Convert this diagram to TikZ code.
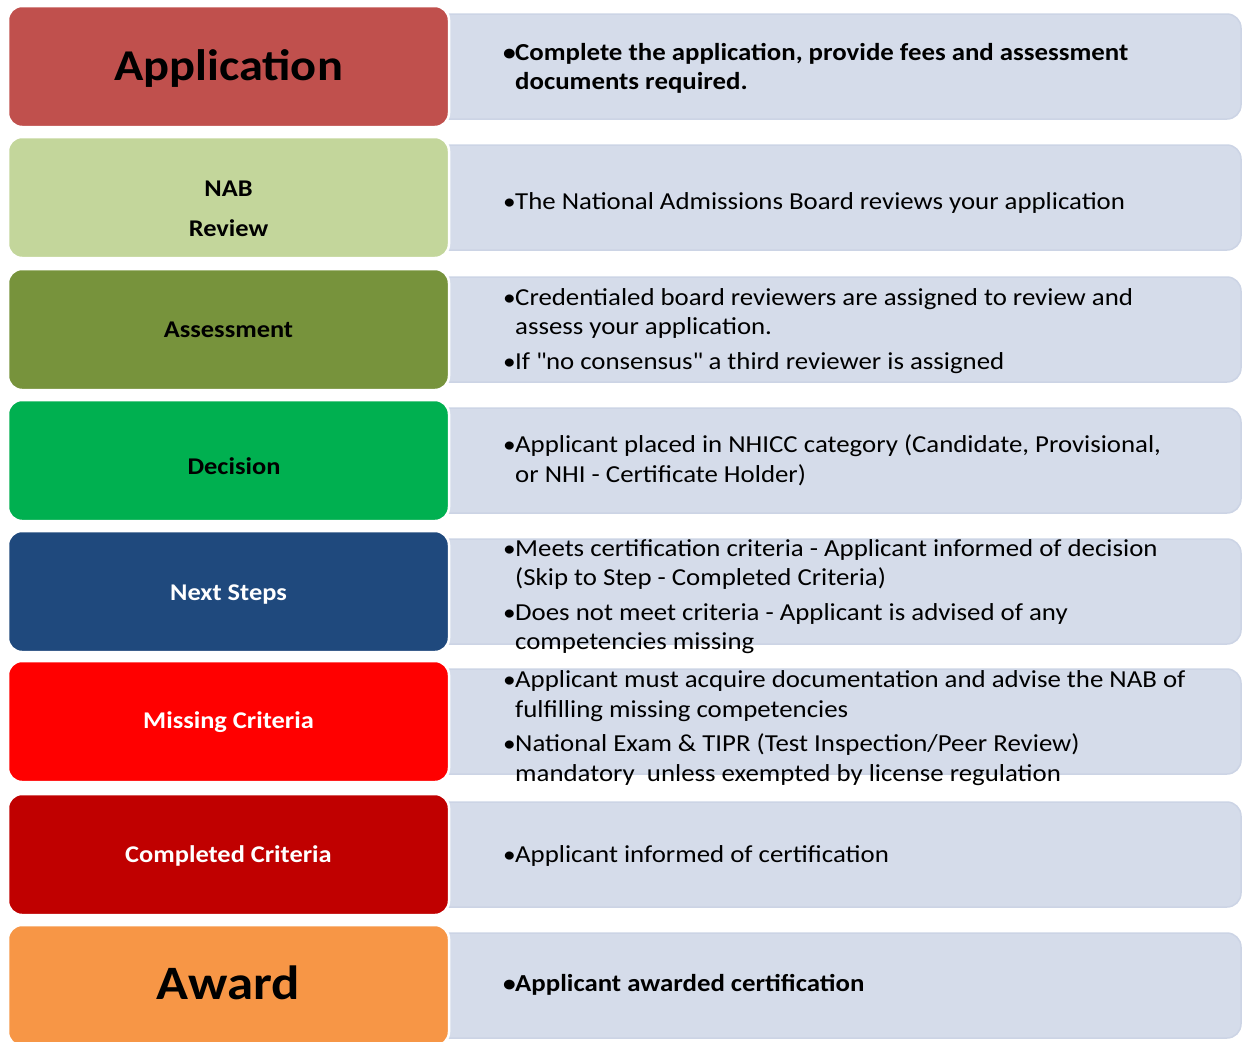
\documentclass[tikz,border=0pt]{standalone}
\usepackage{fontspec}
\setmainfont{Carlito}[FakeStretch=1.1]
\usepackage{tikz}

\definecolor{appred}{HTML}{C0504D}
\definecolor{nabgreen}{HTML}{C3D69B}
\definecolor{olive}{HTML}{77933C}
\definecolor{decgreen}{HTML}{00B050}
\definecolor{navy}{HTML}{1F497D}
\definecolor{brightred}{HTML}{FF0000}
\definecolor{darkred}{HTML}{C00000}
\definecolor{orange}{HTML}{F79646}
\definecolor{infofill}{HTML}{D5DCEA}
\definecolor{infoline}{HTML}{CCD4E5}

\newcommand{\bul}{\makebox[11pt][l]{\hspace*{-1pt}{\fontsize{23}{23}\selectfont\textbullet}}}
\newcommand{\bulind}{\hspace*{11pt}}

\tikzset{
  stage/.style={rounded corners=14pt, draw=white, line width=2.5pt, minimum width=441pt,
    minimum height=121pt, inner sep=0pt, align=center, font=\bfseries\fontsize{24}{29}\selectfont},
  info/.style={rounded corners=14pt, fill=infofill, draw=infoline, line width=1.5pt},
  infotext/.style={anchor=west, inner sep=0pt, align=left, font=\fontsize{24.4}{29.5}\selectfont}
}

\begin{document}
\begin{tikzpicture}[x=1pt,y=-1pt]
\clip (0,0) rectangle (1243,1042);
\fill[white] (0,0) rectangle (1243,1042);

\draw[info] (430,14) rectangle (1241,119);
\node[stage, fill=appred] (app) at (228.5,66.5) {};
\node[font=\bfseries\fontsize{44}{50}\selectfont] (app-lbl) at (228.5,68) {Application};
\node[infotext, font=\bfseries\fontsize{24.4}{29.5}\selectfont] (app-txt) at (504,68.5)
  {\bul Complete the application, provide fees and assessment\\ \bulind documents required.};

\draw[info] (430,145) rectangle (1241,250);
\node[stage, fill=nabgreen] (nab) at (228.5,197.5) {};
\node[font=\bfseries\fontsize{24}{29}\selectfont, align=center] (nab-lbl) at (228.5,209) {NAB\\[11pt]Review};
\node[infotext] (nab-txt) at (504,203) {\bul The National Admissions Board reviews your application};

\draw[info] (430,277) rectangle (1241,382);
\node[stage, fill=olive] (assess) at (228.5,329.5) {Assessment};
\node[infotext] (assess-txt) at (504,331)
  {\bul Credentialed board reviewers are assigned to review and\\ \bulind assess your application.\\[5pt]
   \bul If \textquotedbl no consensus\textquotedbl{} a third reviewer is assigned};

\draw[info] (430,408) rectangle (1241,513);
\node[stage, fill=decgreen] (decision) at (228.5,460.5) {};
\node[font=\bfseries\fontsize{24}{29}\selectfont] (decision-lbl) at (234,466) {Decision};
\node[infotext] (decision-txt) at (504,460.5)
  {\bul Applicant placed in NHICC category (Candidate, Provisional,\\ \bulind or NHI - Certificate Holder)};

\draw[info] (430,539) rectangle (1241,644);
\node[stage, fill=navy] (next) at (228.5,591.5) {};
\node[font=\bfseries\fontsize{24}{29}\selectfont, text=white] (next-lbl) at (228.5,594.5) {Next Steps};
\node[infotext] (next-txt) at (504,596.5)
  {\bul Meets certification criteria - Applicant informed of decision\\ \bulind (Skip to Step - Completed Criteria)\\[5pt]
   \bul Does not meet criteria - Applicant is advised of any\\ \bulind competencies missing};

\draw[info] (430,669) rectangle (1241,774);
\node[stage, fill=brightred] (missing) at (228.5,721.5) {};
\node[font=\bfseries\fontsize{24}{29}\selectfont, text=white] (missing-lbl) at (228.5,722.5) {Missing Criteria};
\node[infotext] (missing-txt) at (504,728)
  {\bul Applicant must acquire documentation and advise the NAB of\\ \bulind fulfilling missing competencies\\[5pt]
   \bul National Exam \& TIPR (Test Inspection/Peer Review)\\ \bulind mandatory\ \ unless exempted by license regulation};

\draw[info] (430,802) rectangle (1241,907);
\node[stage, fill=darkred] (completed) at (228.5,854.5) {};
\node[font=\bfseries\fontsize{24}{29}\selectfont, text=white] (completed-lbl) at (228.5,855.5) {Completed Criteria};
\node[infotext] (completed-txt) at (504,856) {\bul Applicant informed of certification};

\draw[info] (430,933) rectangle (1241,1038);
\node[stage, fill=orange] (award) at (228.5,985.5) {};
\node[font=\bfseries\fontsize{48}{54}\selectfont] (award-lbl) at (228.5,982.5) {Award};
\node[infotext, font=\bfseries\fontsize{24.4}{29.5}\selectfont] (award-txt) at (504,985) {\bul Applicant awarded certification};
\end{tikzpicture}
\end{document}
